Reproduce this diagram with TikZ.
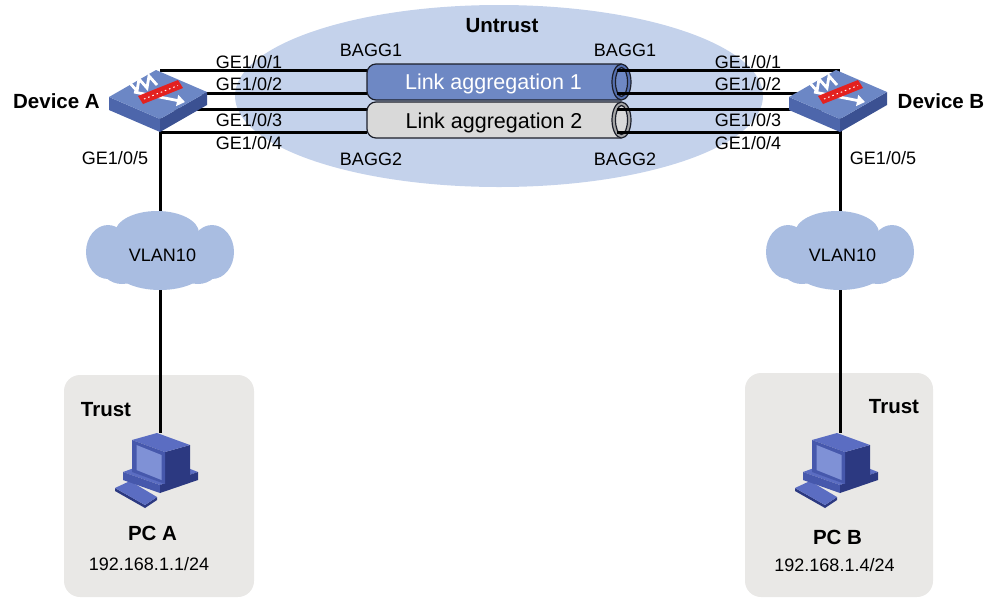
\documentclass[tikz,border=0pt]{standalone}
\usepackage{fontspec}
\setmainfont{Liberation Sans}
\usetikzlibrary{arrows.meta}

\definecolor{zoneblue}{HTML}{C4D2EB}
\definecolor{cloudblue}{HTML}{A9BDE1}
\definecolor{trustgray}{HTML}{E9E8E6}
\definecolor{tubeblue}{HTML}{6E88C4}
\definecolor{tubeband}{HTML}{5570B0}
\definecolor{tubegray}{HTML}{D9D9D9}
\definecolor{tubegrayband}{HTML}{A6A6A6}
\definecolor{tubeedge}{HTML}{1C1F2A}
\definecolor{devtop}{HTML}{6C87C5}
\definecolor{devleft}{HTML}{4D66AB}
\definecolor{devright}{HTML}{3B5192}
\definecolor{devred}{HTML}{E3211F}
\definecolor{pctop}{HTML}{5B6DC2}
\definecolor{pcfront}{HTML}{4658AC}
\definecolor{pcside}{HTML}{2C3981}
\definecolor{pcscreen}{HTML}{7F91D6}

\tikzset{
  lbl/.style={font=\fontsize{18}{20}\selectfont, inner sep=0pt, anchor=base},
  blbl/.style={font=\fontsize{20.5}{24}\selectfont\bfseries, inner sep=0pt, anchor=base},
  laglbl/.style={font=\fontsize{21.5}{24}\selectfont, inner sep=0pt, anchor=base},
  link/.style={line width=3pt, black},
  pics/firewall/.style={code={
    \fill[devleft] (-51,0) -- (0,22) -- (0,35) -- (-51,13) -- cycle;
    \fill[devright] (0,22) -- (47,-5) -- (47,8) -- (0,35) -- cycle;
    \fill[devtop] (-51,0) -- (-4,-27) -- (47,-5) -- (0,22) -- cycle;
    \draw[white, line width=2.8pt, line join=miter, line cap=butt]
      (-31,-15) -- (-23,-6) -- (-21,-18) -- (-13,-9) -- (-11,-21) -- (-3,-12);
    \draw[white, line width=2.8pt, -{Triangle[length=8pt,width=11pt]}]
      (-26,-5) -- (25,5);
    \fill[devred] (-22,-1) -- (18,-17) -- (23,-9) -- (-17,7) -- cycle;
    \draw[white, line width=1pt, dash pattern=on 1.5pt off 3pt]
      (-16,2) -- (18,-11.5);
  }},
  pics/pc/.style={code={
    % keyboard
    \fill[pcside] (-42,20) -- (-12,37) -- (-12,40) -- (-42,23) -- cycle;
    \fill[pcside] (-12,37) -- (0,29) -- (0,32) -- (-12,40) -- cycle;
    \fill[pctop] (-42,20) -- (-27,13) -- (0,29) -- (-12,37) -- cycle;
    % system case
    \fill[pctop] (-34,4) -- (5,-10) -- (41,4) -- (3,17) -- cycle;
    \fill[pcfront] (-34,4) -- (3,17) -- (3,25) -- (-34,12) -- cycle;
    \fill[pcside] (3,17) -- (41,4) -- (41,12) -- (3,25) -- cycle;
    % monitor
    \fill[pcside] (8,-16) -- (33,-23) -- (33,9) -- (8,16) -- cycle;
    \fill[pctop] (-25,-28) -- (0,-35) -- (33,-23) -- (8,-16) -- cycle;
    \fill[pcfront] (-25,-28) -- (8,-16) -- (8,16) -- (-25,4) -- cycle;
    \fill[pcscreen] (-20.5,-23) -- (4.5,-13) -- (4.5,12) -- (-20.5,2) -- cycle;
  }},
  pics/cloud/.style={code={
    \fill[cloudblue] (0,0) ellipse [x radius=50, y radius=30];
    \fill[cloudblue] (-52,0) ellipse [x radius=22, y radius=27];
    \fill[cloudblue] (52,0) ellipse [x radius=22, y radius=27];
    \fill[cloudblue] (-3,-19) ellipse [x radius=42, y radius=22];
    \fill[cloudblue] (0,16) ellipse [x radius=46, y radius=22];
    \fill[cloudblue] (-38,12) ellipse [x radius=22, y radius=20];
    \fill[cloudblue] (38,12) ellipse [x radius=22, y radius=20];
  }},
}

\begin{document}
\begin{tikzpicture}[x=1pt, y=-1pt]
\useasboundingbox (0,0) rectangle (986,598);

% trust zones
\fill[trustgray, rounded corners=16pt] (64,375) rectangle (254,597);
\fill[trustgray, rounded corners=16pt] (745,373) rectangle (933,597);

% untrust zone
\fill[zoneblue] (499,96) ellipse [x radius=264, y radius=91];

% device, cloud and host positions
\coordinate (devA) at (160,97);
\coordinate (devB) at (840,97);
\coordinate (cloudA) at (160,252);
\coordinate (cloudB) at (840,252);
\coordinate (pcA) at (157,468);
\coordinate (pcB) at (837,468);
\coordinate (pcAtop) at (160,433);
\coordinate (pcBtop) at (840,433);

% access links
\draw[link] (devA) -- (cloudA) -- (pcAtop);
\draw[link] (devB) -- (cloudB) -- (pcBtop);

\pic at (cloudA) {cloud};
\pic at (cloudB) {cloud};
\node[lbl] (vlanA) at (162.5,261) {VLAN10};
\node[lbl] (vlanB) at (842.5,261) {VLAN10};

% member ports
\foreach \i/\y in {1/70, 2/93, 3/109, 4/132} {
  \coordinate (a\i) at (160,\y);
  \coordinate (l\i) at (367,\y);
  \coordinate (r\i) at (617,\y);
  \coordinate (b\i) at (840,\y);
}
\foreach \i in {1,...,4} \draw[link] (a\i) -- (l\i);

% aggregation tubes
\filldraw[fill=tubeblue, draw=tubeedge, line width=1.2pt, rounded corners=9pt]
  (621,64) -- (367,64) -- (367,100) -- (621,100);
\filldraw[fill=tubeband, draw=tubeedge, line width=1.2pt]
  (621.5,82) ellipse [x radius=9.5, y radius=18];
\filldraw[fill=tubeblue, draw=tubeedge, line width=1.2pt]
  (621.5,82) ellipse [x radius=6, y radius=14.5];

\filldraw[fill=tubegray, draw=tubeedge, line width=1.2pt, rounded corners=9pt]
  (621,102) -- (367,102) -- (367,138) -- (621,138);
\filldraw[fill=tubegrayband, draw=tubeedge, line width=1.2pt]
  (621.5,120) ellipse [x radius=9.5, y radius=18];
\filldraw[fill=tubegray, draw=tubeedge, line width=1.2pt]
  (621.5,120) ellipse [x radius=6, y radius=14.5];

\node[laglbl, text=white] (lag1) at (493.5,89) {Link aggregation 1};
\node[laglbl] (lag2) at (494,128) {Link aggregation 2};

\foreach \i in {1,...,4} \draw[link] (r\i) -- (b\i);

% devices and hosts
\pic at (devA) {firewall};
\pic at (devB) {firewall};
\pic at (pcA) {pc};
\pic at (pcB) {pc};

% labels
\node[blbl] (untrust) at (502,32) {Untrust};
\node[lbl] (bagg1l) at (371,56.5) {BAGG1};
\node[lbl] (bagg1r) at (625,56.5) {BAGG1};
\node[lbl] (bagg2l) at (371,165) {BAGG2};
\node[lbl] (bagg2r) at (625,165) {BAGG2};

\node[lbl] (geA1) at (249,68) {GE1/0/1};
\node[lbl] (geA2) at (249,90.5) {GE1/0/2};
\node[lbl] (geA3) at (249,126.5) {GE1/0/3};
\node[lbl] (geA4) at (249,149.5) {GE1/0/4};
\node[lbl] (geA5) at (115,164.5) {GE1/0/5};
\node[lbl] (geB1) at (748,68) {GE1/0/1};
\node[lbl] (geB2) at (748,90.5) {GE1/0/2};
\node[lbl] (geB3) at (748,126.5) {GE1/0/3};
\node[lbl] (geB4) at (748,149.5) {GE1/0/4};
\node[lbl] (geB5) at (883,164.5) {GE1/0/5};

\node[blbl] (nameA) at (56.5,108) {Device A};
\node[blbl] (nameB) at (941,108) {Device B};

\node[blbl] (trustA) at (106,416) {Trust};
\node[blbl] (trustB) at (894,413) {Trust};
\node[blbl] (pcnameA) at (152.5,540) {PC A};
\node[blbl] (pcnameB) at (837.5,544) {PC B};
\node[lbl] (ipA) at (149,570) {192.168.1.1/24};
\node[lbl] (ipB) at (834.5,571) {192.168.1.4/24};
\end{tikzpicture}
\end{document}
